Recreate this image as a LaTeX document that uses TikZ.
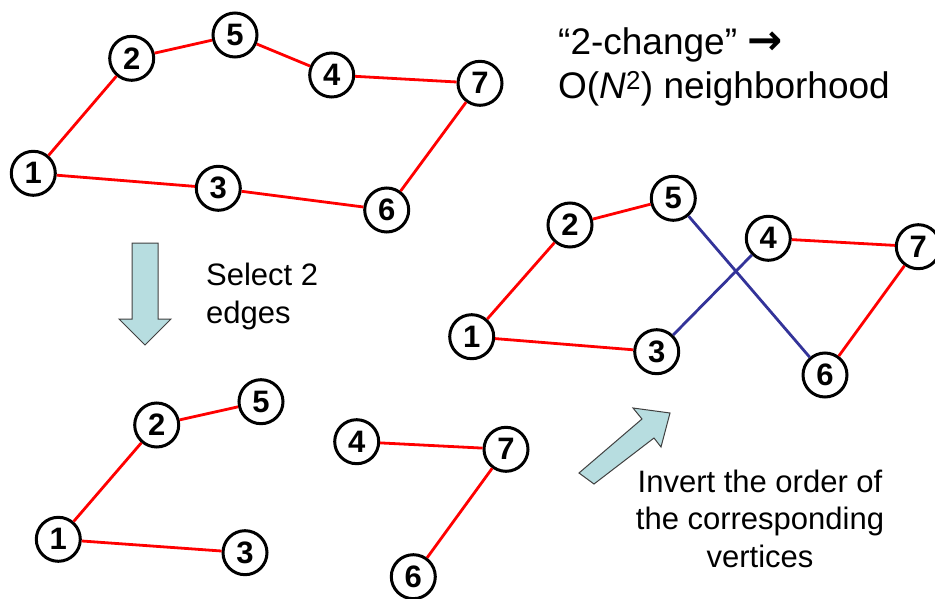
\documentclass[tikz,border=0pt]{standalone}
\usepackage{fontspec}
\setmainfont{Liberation Sans}
\newfontfamily\arrowfont{DejaVu Sans}
\begin{document}
\begin{tikzpicture}[x=1pt,y=-1pt,
  vtx/.style={circle,draw=black,line width=3pt,fill=white,minimum size=44pt,inner sep=0pt,
    font=\fontsize{31}{31}\selectfont\bfseries},
  tour/.style={draw=red,line width=2.8pt},
  swap/.style={draw=swapblue,line width=2.8pt},
  bigarrow/.style={fill=arrowfill,draw=arrowline,line width=1pt,line join=miter},
  caption/.style={font=\fontsize{31}{37.5}\selectfont,inner sep=0pt}]
\definecolor{swapblue}{RGB}{51,51,153}
\definecolor{arrowfill}{RGB}{183,221,224}
\definecolor{arrowline}{RGB}{64,64,64}
\clip (0,0) rectangle (935,599);

% original tour
\node[vtx] (t1) at (33.3,173.3) {1};
\node[vtx] (t2) at (131.7,58.3) {2};
\node[vtx] (t5) at (235,35) {5};
\node[vtx] (t4) at (331.7,75) {4};
\node[vtx] (t7) at (480,83.3) {7};
\node[vtx] (t3) at (218.3,188.3) {3};
\node[vtx] (t6) at (386.7,210) {6};

% tour after the 2-change
\node[vtx] (r1) at (471.7,336.7) {1};
\node[vtx] (r2) at (570,225) {2};
\node[vtx] (r5) at (673.3,198.3) {5};
\node[vtx] (r4) at (768.3,238.3) {4};
\node[vtx] (r7) at (918.3,246.7) {7};
\node[vtx] (r3) at (656.7,351.7) {3};
\node[vtx] (r6) at (825,375) {6};

% tour with two edges removed
\node[vtx] (b1) at (58.3,539.3) {1};
\node[vtx] (b2) at (156.7,425) {2};
\node[vtx] (b5) at (261,401.7) {5};
\node[vtx] (b3) at (245,552.7) {3};
\node[vtx] (b4) at (356.7,441.7) {4};
\node[vtx] (b7) at (506,449.3) {7};
\node[vtx] (b6) at (413.3,576.7) {6};

% edges between vertex borders
\path[tour] (t1) -- (t2) (t2) -- (t5) (t5) -- (t4) (t4) -- (t7)
            (t7) -- (t6) (t6) -- (t3) (t3) -- (t1);
\path[tour] (r1) -- (r2) (r2) -- (r5) (r4) -- (r7) (r7) -- (r6) (r1) -- (r3);
\path[swap] (r5) -- (r6) (r3) -- (r4);
\path[tour] (b1) -- (b2) (b2) -- (b5) (b1) -- (b3) (b4) -- (b7) (b7) -- (b6);

% block arrows
\path[bigarrow] (132,243) -- (158,243) -- (158,319) -- (171,319) -- (145,345)
  -- (119,319) -- (132,319) -- cycle;
\path[bigarrow] (579,473) -- (642,419) -- (633,408) -- (670,413) -- (661,447)
  -- (654,438) -- (594,484) -- cycle;

% captions (anchored at the baseline of their last line)
\node[caption,anchor=base west,align=left] (sel) at (206,323) {Select 2\\edges};
\node[caption,anchor=base west,align=left,font=\fontsize{37}{44}\selectfont] (nbh) at (558,99)
  {“2-change” {\arrowfont\bfseries\fontsize{42}{42}\selectfont →}\\O(\textit{N}\textsuperscript{2}) neighborhood};
\node[caption,anchor=base,align=center] (inv) at (760,567)
  {Invert the order of\\the corresponding\\vertices};
\end{tikzpicture}
\end{document}
